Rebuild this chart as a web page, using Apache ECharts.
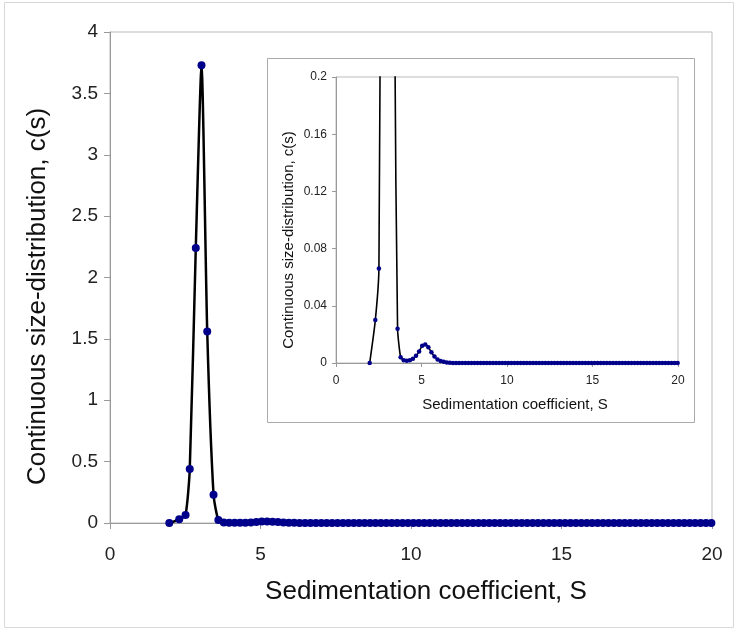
<!DOCTYPE html>
<html>
<head>
<meta charset="utf-8">
<script src="https://cdn.jsdelivr.net/npm/echarts@6/dist/echarts.min.js"></script>
<style>
  html, body { margin: 0; padding: 0; background: #fff; }
  #chart { width: 739px; height: 632px; }
</style>
</head>
<body>
<div id="chart"></div>
<script>
// sedimentation coefficient (S) and c(s)
var peakS = [1.97, 2.30, 2.51, 2.65, 2.85, 3.04, 3.23, 3.44, 3.60, 3.78];
var peakC = [0.0, 0.030, 0.066, 0.44, 2.24, 3.73, 1.56, 0.23, 0.024, 0.004];

var bumpS = [3.96, 4.14, 4.32, 4.50, 4.68, 4.86, 5.04, 5.22, 5.40, 5.58, 5.76, 5.94, 6.12, 6.30, 6.48, 6.66];
var bumpC = [0.002, 0.0015, 0.002, 0.003, 0.005, 0.008, 0.012, 0.013, 0.011, 0.0075, 0.0045, 0.0025, 0.0014, 0.0008, 0.0004, 0.0002];

var tailS = [6.84, 7.02, 7.20, 7.38, 7.56, 7.74, 7.92, 8.10, 8.28, 8.46, 8.64, 8.82, 9.00, 9.18, 9.36, 9.54,
  9.72, 9.90, 10.08, 10.26, 10.44, 10.62, 10.80, 10.98, 11.16, 11.34, 11.52, 11.70, 11.88, 12.06, 12.24,
  12.42, 12.60, 12.78, 12.96, 13.14, 13.32, 13.50, 13.68, 13.86, 14.04, 14.22, 14.40, 14.58, 14.76, 14.94,
  15.12, 15.30, 15.48, 15.66, 15.84, 16.02, 16.20, 16.38, 16.56, 16.74, 16.92, 17.10, 17.28, 17.46, 17.64,
  17.82, 18.00, 18.18, 18.36, 18.54, 18.72, 18.90, 19.08, 19.26, 19.44, 19.62, 19.80, 19.98];
var tailC = [0, 0, 0, 0, 0, 0, 0, 0, 0, 0, 0, 0, 0, 0, 0, 0,
  0, 0, 0, 0, 0, 0, 0, 0, 0, 0, 0, 0, 0, 0, 0,
  0, 0, 0, 0, 0, 0, 0, 0, 0, 0, 0, 0, 0, 0, 0,
  0, 0, 0, 0, 0, 0, 0, 0, 0, 0, 0, 0, 0, 0, 0,
  0, 0, 0, 0, 0, 0, 0, 0, 0, 0, 0, 0, 0];

var xTicks = [0, 5, 10, 15, 20];
var mainYMax = 4, insetYMax = 0.2;

var sVals = peakS.concat(bumpS, tailS);
var cVals = peakC.concat(bumpC, tailC);
var pts = sVals.map(function (s, i) { return [s, cVals[i]]; });

var font = 'Liberation Sans, Arial, sans-serif';

function xAx(gi, size, nameSize, margin, gap, tick, shift, z) {
  return {
    gridIndex: gi, type: 'value', min: xTicks[0], max: xTicks[xTicks.length - 1], interval: 5,
    name: 'Sedimentation coefficient, S', nameLocation: 'middle', nameGap: gap,
    nameTextStyle: { fontFamily: font, fontSize: nameSize, color: '#111', padding: [0, 0, 0, shift] },
    axisLine: { lineStyle: { color: '#999', width: 1 } },
    axisTick: { show: true, length: tick, lineStyle: { color: '#999' } },
    axisLabel: { fontFamily: font, fontSize: size, color: '#222', margin: margin },
    splitLine: { show: false }, z: z
  };
}
function yAx(gi, max, step, size, nameSize, margin, gap, tick, shift, z) {
  return {
    gridIndex: gi, type: 'value', min: 0, max: max, interval: step,
    name: 'Continuous size-distribution, c(s)', nameLocation: 'middle', nameGap: gap,
    nameTextStyle: { fontFamily: font, fontSize: nameSize, color: '#111', padding: [0, shift, 0, 0] },
    axisLine: { show: true, lineStyle: { color: '#999', width: 1 } },
    axisTick: { show: true, length: tick, lineStyle: { color: '#999' } },
    axisLabel: { fontFamily: font, fontSize: size, color: '#222', margin: margin },
    splitLine: { show: false }, z: z
  };
}

var chart = echarts.init(document.getElementById('chart'), null, { renderer: 'canvas' });
chart.setOption({
  backgroundColor: '#fff',
  animation: false,
  graphic: [
    { type: 'rect', z: 0, shape: { x: 4.5, y: 2.5, width: 729, height: 625 },
      style: { fill: null, stroke: '#d8d8d8', lineWidth: 1 } },
    { type: 'rect', z: 10, shape: { x: 267.5, y: 58.5, width: 427, height: 364 },
      style: { fill: '#fff', stroke: '#aaa', lineWidth: 1 } }
  ],
  grid: [
    { left: 110, top: 32, width: 602, height: 491, show: true, borderColor: '#bbb', borderWidth: 1, z: 0 },
    { left: 336, top: 77, width: 342, height: 286, show: true, borderColor: '#bbb', borderWidth: 1, z: 11 }
  ],
  xAxis: [
    xAx(0, 19, 26, 22, 56, 6, 30, 1),
    xAx(1, 12, 15, 12, 34, 4, 16, 12)
  ],
  yAxis: [
    yAx(0, mainYMax, 0.5, 19, 26, 12, 59, 6, 38, 1),
    yAx(1, insetYMax, 0.04, 12, 15, 9, 40, 4, 40, 12)
  ],
  series: [
    {
      type: 'line', xAxisIndex: 0, yAxisIndex: 0, data: pts, z: 2,
      smooth: 0.2, symbol: 'circle', symbolSize: 8, showAllSymbol: true,
      lineStyle: { color: '#000', width: 2.5 },
      itemStyle: { color: '#00008b', borderWidth: 0 }
    },
    {
      type: 'line', xAxisIndex: 1, yAxisIndex: 1, data: pts, z: 13, clip: true,
      smooth: 0.2, symbol: 'circle', symbolSize: 4.5, showAllSymbol: true,
      lineStyle: { color: '#000', width: 1.6 },
      itemStyle: { color: '#00008b', borderWidth: 0 }
    }
  ]
});
</script>
</body>
</html>
